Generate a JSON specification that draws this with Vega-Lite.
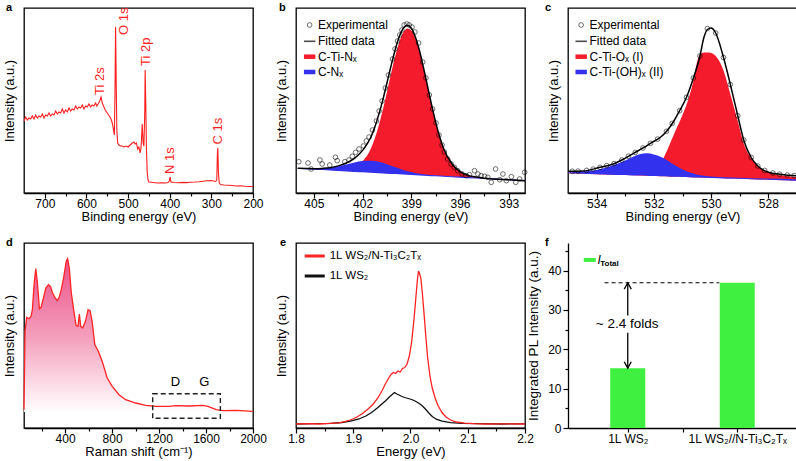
{
"$schema": "https://vega.github.io/schema/vega-lite/v6.json",
"autosize": {"type": "pad"},
"padding": {"left": 2, "top": 0, "right": 2, "bottom": 1},
"config": {
 "font": "Liberation Sans",
 "view": {"stroke": "black", "strokeWidth": 1.3},
 "axis": {"grid": false, "labelFontSize": 12, "titleFontSize": 13, "titleFontWeight": "normal", "labelColor": "black", "titleColor": "black", "domainColor": "black", "tickColor": "black", "tickWidth": 1.2, "domainWidth": 1.3, "labelFont": "Liberation Sans", "titleFont": "Liberation Sans"},
 "title": {"fontSize": 11, "fontWeight": "bold", "anchor": "start", "frame": "group", "offset": -5, "baseline": "alphabetic", "color": "black", "font": "Liberation Sans"}
},
"columns": 3,
"spacing": {"row": 50, "column": 43},
"bounds": "flush",
"concat": [
 {
  "width": 229, "height": 185,
  "title": {"text": "a", "dx": -18},
  "encoding": {
   "x": {"field": "x", "type": "quantitative", "title": "Binding energy (eV)", "scale": {"domain": [200, 750], "reverse": true, "nice": false, "zero": false},
    "axis": {"values": [700,650,600,550,500,450,400,350,300,250,200], "labelExpr": "datum.value % 100 === 0 ? datum.label : ''", "tickSize": {"condition": {"test": "datum.value % 100 === 0", "value": 5}, "value": 3}, "labelFlush": false, "labelOverlap": false, "labelPadding": 0.5, "titlePadding": 0.5}},
   "y": {"field": "y", "type": "quantitative", "title": "Intensity (a.u.)", "scale": {"domain": [0, 185], "nice": false}, "axis": {"labels": false, "ticks": false, "domain": false, "titlePadding": 7.5}}
  },
  "layer": [
   {"data": {"name": "xps"}, "mark": {"type": "line", "color": "#ff1f1f", "strokeWidth": 1.1}},
   {"data": {"name": "xpslab"}, "mark": {"type": "text", "angle": 270, "align": "left", "baseline": "middle", "color": "#ff1f1f", "fontSize": 13}, "encoding": {"text": {"field": "t"}}}
  ]
 },
 {
  "width": 229, "height": 185,
  "title": {"text": "b", "dx": -17},
  "encoding": {
   "x": {"field": "x", "type": "quantitative", "title": "Binding energy (eV)", "scale": {"domain": [392, 406.1], "reverse": true, "nice": false, "zero": false},
    "axis": {"values": [405,403.5,402,400.5,399,397.5,396,394.5,393], "labelExpr": "datum.value % 1 === 0 ? datum.label : ''", "tickSize": {"condition": {"test": "datum.value % 1 === 0", "value": 5}, "value": 3}, "labelFlush": false, "labelOverlap": false, "labelPadding": 0.5, "titlePadding": 0.5}},
   "y": {"field": "y", "type": "quantitative", "title": "Intensity (a.u.)", "scale": {"domain": [0, 185], "nice": false}, "axis": {"labels": false, "ticks": false, "domain": false, "titlePadding": 7.5}}
  },
  "layer": [
   {"data": {"name": "nred"}, "mark": {"type": "area", "color": "#f31b2c", "interpolate": "monotone"}, "encoding": {"y2": {"field": "y2"}}},
   {"data": {"name": "nblue"}, "mark": {"type": "area", "color": "#3232ee", "interpolate": "monotone"}, "encoding": {"y2": {"field": "y2"}}},
   {"data": {"name": "nfit"}, "mark": {"type": "line", "color": "black", "strokeWidth": 1.5, "interpolate": "monotone"}},
   {"data": {"name": "nexp"}, "mark": {"type": "point", "shape": "circle", "filled": false, "color": "black", "strokeWidth": 0.8, "size": 22}},
   {"data": {"name": "nlegsym"}, "transform": [{"filter": "datum.k == 'exp'"}], "mark": {"type": "point", "shape": "circle", "filled": false, "color": "black", "strokeWidth": 0.8, "size": 22}},
   {"data": {"name": "nlegsym"}, "transform": [{"filter": "datum.k == 'fit'"}], "mark": {"type": "point", "shape": "stroke", "size": 130, "stroke": "black", "strokeWidth": 1.6}},
   {"data": {"name": "nlegsym"}, "transform": [{"filter": "datum.k == 'red'"}], "mark": {"type": "point", "shape": "stroke", "size": 130, "stroke": "#f31b2c", "strokeWidth": 4.5, "opacity": 1}},
   {"data": {"name": "nlegsym"}, "transform": [{"filter": "datum.k == 'blue'"}], "mark": {"type": "point", "shape": "stroke", "size": 130, "stroke": "#3232ee", "strokeWidth": 4.5, "opacity": 1}},
   {"data": {"name": "nlegtxt"}, "mark": {"type": "text", "align": "left", "baseline": "middle", "fontSize": 12, "color": "black"}, "encoding": {"text": {"field": "t"}}}
  ]
 },
 {
  "width": 229, "height": 185,
  "title": {"text": "c", "dx": -23},
  "encoding": {
   "x": {"field": "x", "type": "quantitative", "title": "Binding energy (eV)", "scale": {"domain": [527, 535], "reverse": true, "nice": false, "zero": false},
    "axis": {"values": [534,533,532,531,530,529,528], "labelExpr": "datum.value % 2 === 0 ? datum.label : ''", "tickSize": {"condition": {"test": "datum.value % 2 === 0", "value": 5}, "value": 3}, "labelFlush": false, "labelOverlap": false, "labelPadding": 0.5, "titlePadding": 0.5}},
   "y": {"field": "y", "type": "quantitative", "title": "Intensity (a.u.)", "scale": {"domain": [0, 185], "nice": false}, "axis": {"labels": false, "ticks": false, "domain": false, "titlePadding": 7.5}}
  },
  "layer": [
   {"data": {"name": "cred"}, "mark": {"type": "area", "color": "#f31b2c", "interpolate": "monotone"}, "encoding": {"y2": {"field": "y2"}}},
   {"data": {"name": "cblue"}, "mark": {"type": "area", "color": "#3232ee", "interpolate": "monotone"}, "encoding": {"y2": {"field": "y2"}}},
   {"data": {"name": "cfit"}, "mark": {"type": "line", "color": "black", "strokeWidth": 1.5, "interpolate": "monotone"}},
   {"data": {"name": "cexp"}, "mark": {"type": "point", "shape": "circle", "filled": false, "color": "black", "strokeWidth": 0.8, "size": 22}},
   {"data": {"name": "clegsym"}, "transform": [{"filter": "datum.k == 'exp'"}], "mark": {"type": "point", "shape": "circle", "filled": false, "color": "black", "strokeWidth": 0.8, "size": 22}},
   {"data": {"name": "clegsym"}, "transform": [{"filter": "datum.k == 'fit'"}], "mark": {"type": "point", "shape": "stroke", "size": 130, "stroke": "black", "strokeWidth": 1.6}},
   {"data": {"name": "clegsym"}, "transform": [{"filter": "datum.k == 'red'"}], "mark": {"type": "point", "shape": "stroke", "size": 130, "stroke": "#f31b2c", "strokeWidth": 4.5, "opacity": 1}},
   {"data": {"name": "clegsym"}, "transform": [{"filter": "datum.k == 'blue'"}], "mark": {"type": "point", "shape": "stroke", "size": 130, "stroke": "#3232ee", "strokeWidth": 4.5, "opacity": 1}},
   {"data": {"name": "clegtxt"}, "mark": {"type": "text", "align": "left", "baseline": "middle", "fontSize": 12, "color": "black"}, "encoding": {"text": {"field": "t"}}}
  ]
 },
 {
  "width": 229, "height": 185,
  "title": {"text": "d", "dx": -18},
  "encoding": {
   "x": {"field": "x", "type": "quantitative", "title": "Raman shift (cm⁻¹)", "scale": {"domain": [50, 2000], "nice": false, "zero": false},
    "axis": {"values": [200,400,600,800,1000,1200,1400,1600,1800,2000], "format": "d", "labelExpr": "datum.value % 400 === 0 ? datum.label : ''", "tickSize": {"condition": {"test": "datum.value % 400 === 0", "value": 5}, "value": 3}, "labelFlush": false, "labelOverlap": false, "labelPadding": 0.5, "titlePadding": 0.5}},
   "y": {"field": "y", "type": "quantitative", "title": "Intensity (a.u.)", "scale": {"domain": [0, 185], "nice": false}, "axis": {"labels": false, "ticks": false, "domain": false, "titlePadding": 7.5}}
  },
  "layer": [
   {"data": {"name": "raman"}, "mark": {"type": "area", "color": {"gradient": "linear", "x1": 0, "x2": 0, "y1": 0, "y2": 1, "stops": [{"offset": 0, "color": "#ec5088"}, {"offset": 0.5, "color": "#f49dbb"}, {"offset": 1, "color": "#ffffff"}]}}, "encoding": {"y2": {"datum": 16}}},
   {"data": {"name": "raman"}, "mark": {"type": "line", "color": "#ff2424", "strokeWidth": 1.3}},
   {"data": {"name": "dbox"}, "mark": {"type": "rect", "fillOpacity": 0, "stroke": "#222222", "strokeWidth": 1.4, "strokeDash": [5, 3]}, "encoding": {"x2": {"field": "x2"}, "y2": {"field": "y2"}}},
   {"data": {"name": "dlab"}, "mark": {"type": "text", "align": "center", "baseline": "middle", "fontSize": 13, "color": "black"}, "encoding": {"text": {"field": "t"}}}
  ]
 },
 {
  "width": 229, "height": 185,
  "title": {"text": "e", "dx": -16},
  "encoding": {
   "x": {"field": "x", "type": "quantitative", "title": "Energy (eV)", "scale": {"domain": [1.8, 2.2], "nice": false, "zero": false},
    "axis": {"values": [1.8,1.85,1.9,1.95,2.0,2.05,2.1,2.15,2.2], "labelExpr": "abs(datum.value*10 - round(datum.value*10)) < 0.01 ? format(datum.value, '.1f') : ''", "tickSize": {"condition": {"test": "abs(datum.value*10 - round(datum.value*10)) < 0.01", "value": 5}, "value": 3}, "labelFlush": false, "labelOverlap": false, "labelPadding": 0.5, "titlePadding": 0.5}},
   "y": {"field": "y", "type": "quantitative", "title": "Intensity (a.u.)", "scale": {"domain": [0, 185], "nice": false}, "axis": {"labels": false, "ticks": false, "domain": false, "titlePadding": 7.5}}
  },
  "layer": [
   {"data": {"name": "eblack"}, "mark": {"type": "line", "color": "#111111", "strokeWidth": 1.3}},
   {"data": {"name": "ered"}, "mark": {"type": "line", "color": "#ff2222", "strokeWidth": 1.3}},
   {"data": {"name": "elegsym"}, "transform": [{"filter": "datum.k == 'red'"}], "mark": {"type": "point", "shape": "stroke", "size": 400, "stroke": "#ff2222", "strokeWidth": 3, "opacity": 1}},
   {"data": {"name": "elegsym"}, "transform": [{"filter": "datum.k == 'black'"}], "mark": {"type": "point", "shape": "stroke", "size": 400, "stroke": "#111111", "strokeWidth": 3, "opacity": 1}},
   {"data": {"name": "elegtxt"}, "mark": {"type": "text", "align": "left", "baseline": "middle", "fontSize": 11.5, "color": "black"}, "encoding": {"text": {"field": "t"}}}
  ]
 },
 {
  "width": 229, "height": 185,
  "title": {"text": "f", "dx": -23},
  "view": {"stroke": null},
  "encoding": {
   "x": {"field": "x", "type": "quantitative", "title": null, "scale": {"domain": [0, 2], "nice": false, "zero": false},
    "axis": {"values": [0.5, 1, 1.5], "labelExpr": "datum.value == 0.5 ? '1L WS₂' : (datum.value == 1.5 ? '1L WS₂//N-Ti₃C₂Tₓ' : '')", "tickSize": 4, "labelFlush": false, "labelOverlap": false, "labelPadding": 1.5}},
   "y": {"field": "y", "type": "quantitative", "title": "Integrated PL Intensity (a.u.)", "scale": {"domain": [0, 47], "nice": false, "zero": true},
    "axis": {"values": [0,5,10,15,20,25,30,35,40,45], "labelExpr": "datum.value % 10 === 0 ? datum.label : ''", "tickSize": {"condition": {"test": "datum.value % 10 === 0", "value": 5}, "value": 3}, "labelOverlap": false, "labelFlush": false, "labelPadding": 2, "titleFontSize": 13.5, "titlePadding": 7}}
  },
  "layer": [
   {"data": {"name": "fbar"}, "mark": {"type": "bar", "size": 35, "color": "#40f040"}},
   {"data": {"name": "fdash"}, "mark": {"type": "rule", "color": "black", "strokeWidth": 1.2, "strokeDash": [4, 3]}, "encoding": {"x2": {"field": "x2"}}},
   {"data": {"name": "farrow"}, "mark": {"type": "rule", "color": "black", "strokeWidth": 1.3}, "encoding": {"y2": {"field": "y2"}}},
   {"data": {"name": "fheadup"}, "mark": {"type": "point", "shape": "M-1,1.8L0,0L1,1.8", "size": 50, "filled": false, "stroke": "black", "strokeWidth": 1.3, "opacity": 1}},
   {"data": {"name": "fheaddown"}, "mark": {"type": "point", "shape": "M-1,-1.8L0,0L1,-1.8", "size": 50, "filled": false, "stroke": "black", "strokeWidth": 1.3, "opacity": 1}},
   {"data": {"name": "ftxt"}, "mark": {"type": "text", "align": "center", "baseline": "middle", "fontSize": 13.5, "color": "black"}, "encoding": {"text": {"field": "t"}}},
   {"data": {"name": "flegsym"}, "mark": {"type": "point", "shape": "stroke", "size": 144, "stroke": "#40f040", "strokeWidth": 4, "opacity": 1}},
   {"data": {"name": "flegI"}, "mark": {"type": "text", "align": "left", "baseline": "middle", "fontSize": 12, "fontStyle": "italic", "color": "black"}, "encoding": {"text": {"field": "t"}}},
   {"data": {"name": "flegT"}, "mark": {"type": "text", "align": "left", "baseline": "middle", "fontSize": 8, "fontWeight": "bold", "color": "black"}, "encoding": {"text": {"field": "t"}}}
  ]
 }
],
"datasets": {
 "xps": [
  {"x":750,"y":72},{"x":746,"y":76},{"x":742,"y":73},{"x":738,"y":75},{"x":734,"y":74},{"x":730,"y":77},{"x":726,"y":74},{"x":722,"y":78},{"x":718,"y":75},{"x":714,"y":77},{"x":710,"y":76},{"x":706,"y":79},{"x":702,"y":75},{"x":698,"y":78},{"x":694,"y":77},{"x":690,"y":80},{"x":686,"y":77},{"x":682,"y":79},{"x":678,"y":78},{"x":674,"y":82},{"x":670,"y":79},{"x":666,"y":81},{"x":662,"y":80},{"x":658,"y":84},{"x":654,"y":80},{"x":650,"y":83},{"x":646,"y":81},{"x":642,"y":85},{"x":638,"y":82},{"x":634,"y":84},{"x":630,"y":83},{"x":626,"y":87},{"x":622,"y":84},{"x":618,"y":86},{"x":614,"y":85},{"x":610,"y":88},{"x":606,"y":84},{"x":602,"y":87},{"x":598,"y":86},{"x":594,"y":89},{"x":590,"y":86},{"x":586,"y":88},{"x":582,"y":87},{"x":578,"y":90},{"x":575,"y":87},{"x":572,"y":89},{"x":568,"y":92},{"x":565,"y":96},{"x":562,"y":90},{"x":558,"y":86},{"x":555,"y":83},{"x":550,"y":80},{"x":545,"y":77},{"x":541,"y":74},{"x":538,"y":70},{"x":535,"y":63},{"x":533,"y":58},{"x":531.5,"y":100},{"x":530,"y":166},{"x":528.5,"y":110},{"x":527,"y":62},{"x":525,"y":50},{"x":522,"y":48},{"x":518,"y":47},{"x":514,"y":47},{"x":510,"y":46},{"x":505,"y":47},{"x":500,"y":46},{"x":495,"y":48},{"x":490,"y":50},{"x":486,"y":51},{"x":483,"y":49},{"x":480,"y":50},{"x":477,"y":44},{"x":474,"y":46},{"x":471,"y":40},{"x":469,"y":45},{"x":466,"y":69},{"x":464,"y":50},{"x":462,"y":47},{"x":460,"y":80},{"x":459,"y":123},{"x":457.5,"y":90},{"x":456,"y":45},{"x":454,"y":20},{"x":452,"y":13},{"x":450,"y":11},{"x":440,"y":10.5},{"x":430,"y":10},{"x":420,"y":10.3},{"x":410,"y":10},{"x":404,"y":10.5},{"x":401,"y":12},{"x":399,"y":16},{"x":397,"y":11},{"x":390,"y":10.5},{"x":380,"y":10.2},{"x":370,"y":10.6},{"x":360,"y":10.4},{"x":350,"y":10.8},{"x":340,"y":11},{"x":330,"y":11.3},{"x":320,"y":11.8},{"x":310,"y":12.3},{"x":300,"y":12.5},{"x":295,"y":12},{"x":290,"y":11.5},{"x":287,"y":13},{"x":285.5,"y":40},{"x":284.5,"y":45},{"x":283,"y":20},{"x":281,"y":10},{"x":278,"y":8.5},{"x":270,"y":8},{"x":260,"y":7.8},{"x":250,"y":7.5},{"x":240,"y":7},{"x":230,"y":7.2},{"x":220,"y":6.8},{"x":210,"y":6.5},{"x":200,"y":6.5}
 ],
 "xpslab": [
  {"x":567.5,"y":98,"t":"Ti 2s"},{"x":509,"y":158,"t":"O 1s"},{"x":457.8,"y":127,"t":"Ti 2p"},{"x":400,"y":19,"t":"N 1s"},{"x":284.4,"y":48.5,"t":"C 1s"}
 ],
 "nred": [
  {"x":406,"y":24.7,"y2":24.7},{"x":405.5,"y":24.3,"y2":24.3},{"x":405,"y":23.8,"y2":23.8},{"x":404.5,"y":23.4,"y2":23.4},{"x":404,"y":22.9,"y2":22.9},{"x":403.5,"y":22.9,"y2":22.5},{"x":403,"y":23.5,"y2":22.0},{"x":402.5,"y":25.6,"y2":21.6},{"x":402,"y":31.7,"y2":21.2},{"x":401.5,"y":43.9,"y2":20.7},{"x":401.25,"y":54.4,"y2":20.5},{"x":401,"y":67.7,"y2":20.3},{"x":400.75,"y":83.4,"y2":20.0},{"x":400.5,"y":101.0,"y2":19.8},{"x":400.25,"y":119.2,"y2":19.6},{"x":400,"y":136.3,"y2":19.4},{"x":399.75,"y":150.6,"y2":19.2},{"x":399.5,"y":160.4,"y2":18.9},{"x":399.25,"y":164.6,"y2":18.7},{"x":399,"y":162.5,"y2":18.5},{"x":398.75,"y":154.4,"y2":18.3},{"x":398.5,"y":141.3,"y2":18.1},{"x":398.25,"y":124.6,"y2":17.9},{"x":398,"y":106.2,"y2":17.6},{"x":397.75,"y":87.8,"y2":17.4},{"x":397.5,"y":70.7,"y2":17.2},{"x":397.25,"y":55.9,"y2":16.9},{"x":397,"y":43.9,"y2":16.7},{"x":396.5,"y":29.3,"y2":16.3},{"x":396,"y":21.3,"y2":15.8},{"x":395.5,"y":17.6,"y2":15.4},{"x":395,"y":15.9,"y2":15.0},{"x":394.5,"y":14.8,"y2":14.5},{"x":394,"y":14.1,"y2":14.1},{"x":393,"y":13.2,"y2":13.2},{"x":392,"y":12.3,"y2":12.3}
 ],
 "nblue": [
  {"x":406,"y":24.8,"y2":24.2},{"x":405.5,"y":24.5,"y2":23.8},{"x":405,"y":24.3,"y2":23.3},{"x":404.5,"y":24.6,"y2":22.9},{"x":404,"y":25.3,"y2":22.4},{"x":403.5,"y":26.7,"y2":22.0},{"x":403,"y":28.5,"y2":21.5},{"x":402.5,"y":30.6,"y2":21.1},{"x":402,"y":32.1,"y2":20.7},{"x":401.5,"y":32.3,"y2":20.2},{"x":401,"y":31.2,"y2":19.8},{"x":400.5,"y":28.8,"y2":19.3},{"x":400,"y":25.9,"y2":18.9},{"x":399.5,"y":23.1,"y2":18.4},{"x":399,"y":20.9,"y2":18.0},{"x":398.5,"y":19.3,"y2":17.6},{"x":398,"y":18.3,"y2":17.1},{"x":397.5,"y":17.8,"y2":16.7},{"x":397,"y":17.3,"y2":16.2},{"x":396,"y":16.4,"y2":15.3},{"x":395,"y":15.6,"y2":14.5},{"x":394,"y":14.7,"y2":13.6},{"x":393,"y":13.8,"y2":12.7},{"x":392,"y":12.9,"y2":11.8}
 ],
 "nfit": [
  {"x":406,"y":24.8},{"x":405.5,"y":24.5},{"x":405,"y":24.3},{"x":404.5,"y":24.6},{"x":404,"y":25.3},{"x":403.5,"y":27.1},{"x":403,"y":30.0},{"x":402.5,"y":34.6},{"x":402,"y":42.6},{"x":401.5,"y":55.5},{"x":401.25,"y":65.8},{"x":401,"y":78.6},{"x":400.75,"y":93.4},{"x":400.5,"y":110.0},{"x":400.25,"y":127.0},{"x":400,"y":142.8},{"x":399.75,"y":155.9},{"x":399.5,"y":164.6},{"x":399.25,"y":167.8},{"x":399,"y":164.9},{"x":398.75,"y":156.1},{"x":398.5,"y":142.5},{"x":398.25,"y":125.4},{"x":398,"y":106.7},{"x":397.75,"y":88.1},{"x":397.5,"y":70.9},{"x":397.25,"y":56.0},{"x":397,"y":44.0},{"x":396.5,"y":29.3},{"x":396,"y":21.3},{"x":395.5,"y":17.6},{"x":395,"y":15.9},{"x":394.5,"y":14.8},{"x":394,"y":14.1},{"x":393,"y":13.2},{"x":392,"y":12.3}
 ],
 "nexp": [
  {"x":405.93,"y":31.3},{"x":405.36,"y":30},{"x":405.17,"y":24},{"x":404.63,"y":33},{"x":404.49,"y":29},{"x":404.02,"y":28},{"x":403.67,"y":35.7},{"x":403.56,"y":32.3},{"x":403.09,"y":31.3},{"x":402.84,"y":33},{"x":402.63,"y":36.7},{"x":402.43,"y":40.7},{"x":402.22,"y":44},{"x":401.95,"y":47},{"x":401.77,"y":52},{"x":401.6,"y":56},{"x":401.39,"y":63},{"x":401.15,"y":72},{"x":400.98,"y":82},{"x":400.8,"y":92},{"x":400.6,"y":105},{"x":400.41,"y":118},{"x":400.16,"y":134},{"x":400.0,"y":144},{"x":399.85,"y":152},{"x":399.71,"y":158},{"x":399.58,"y":163},{"x":399.44,"y":168},{"x":399.27,"y":169},{"x":399.13,"y":168},{"x":398.96,"y":166},{"x":398.78,"y":161},{"x":398.55,"y":150},{"x":398.3,"y":131},{"x":398.1,"y":115},{"x":397.89,"y":98},{"x":397.69,"y":84},{"x":397.48,"y":70},{"x":397.3,"y":58},{"x":397.11,"y":48},{"x":396.97,"y":41},{"x":396.76,"y":34},{"x":396.55,"y":29},{"x":396.35,"y":25.7},{"x":396.14,"y":22.3},{"x":395.87,"y":19},{"x":395.62,"y":17.3},{"x":395.42,"y":18.3},{"x":395.11,"y":22.3},{"x":394.9,"y":19},{"x":394.7,"y":17.3},{"x":394.49,"y":16.7},{"x":394.29,"y":15.7},{"x":394.08,"y":10.7},{"x":393.81,"y":24},{"x":393.56,"y":13.3},{"x":393.36,"y":19},{"x":393.15,"y":12.3},{"x":392.84,"y":16.3},{"x":392.57,"y":10.7},{"x":392.33,"y":14},{"x":392.02,"y":20.7}
 ],
 "nlegsym": [
  {"x":405.26,"y":168,"k":"exp"},{"x":405.26,"y":151.7,"k":"fit"},{"x":405.26,"y":136.3,"k":"red"},{"x":405.26,"y":121,"k":"blue"}
 ],
 "nlegtxt": [
  {"x":404.75,"y":168,"t":"Experimental"},{"x":404.75,"y":151.7,"t":"Fitted data"},{"x":404.75,"y":136.3,"t":"C-Ti-Nₓ"},{"x":404.75,"y":121,"t":"C-Nₓ"}
 ],
 "cred": [
  {"x":535,"y":20.5,"y2":19.7},{"x":534.5,"y":20.0,"y2":19.2},{"x":534,"y":19.5,"y2":18.8},{"x":533.5,"y":19.2,"y2":18.3},{"x":533,"y":19.0,"y2":17.9},{"x":532.5,"y":19.5,"y2":17.4},{"x":532,"y":22.0,"y2":16.9},{"x":531.85,"y":25.0,"y2":16.8},{"x":531.75,"y":30.0,"y2":16.7},{"x":531.5,"y":45.0,"y2":16.5},{"x":531.25,"y":62.0,"y2":16.2},{"x":531,"y":78.0,"y2":16.0},{"x":530.75,"y":98.0,"y2":15.8},{"x":530.6,"y":115.0,"y2":15.6},{"x":530.5,"y":130.0,"y2":15.5},{"x":530.4,"y":138.0,"y2":15.4},{"x":530.25,"y":140.5,"y2":15.3},{"x":530.1,"y":140.5,"y2":15.1},{"x":529.95,"y":139.5,"y2":15.0},{"x":529.84,"y":137.0,"y2":14.9},{"x":529.6,"y":125.0,"y2":14.7},{"x":529.31,"y":97.0,"y2":14.4},{"x":529.07,"y":72.0,"y2":14.2},{"x":528.84,"y":48.0,"y2":14.0},{"x":528.6,"y":35.0,"y2":13.8},{"x":528.25,"y":24.0,"y2":13.5},{"x":527.78,"y":19.0,"y2":13.0},{"x":527,"y":16.0,"y2":12.3}
 ],
 "cblue": [
  {"x":535,"y":20.5,"y2":19.7},{"x":534.5,"y":21.5,"y2":19.2},{"x":534,"y":23.0,"y2":18.8},{"x":533.5,"y":27.0,"y2":18.3},{"x":533,"y":32.5,"y2":17.9},{"x":532.75,"y":36.0,"y2":17.6},{"x":532.5,"y":38.8,"y2":17.4},{"x":532.25,"y":39.7,"y2":17.2},{"x":532,"y":38.5,"y2":16.9},{"x":531.75,"y":36.0,"y2":16.7},{"x":531.5,"y":32.0,"y2":16.5},{"x":531.25,"y":27.5,"y2":16.2},{"x":531,"y":23.5,"y2":16.0},{"x":530.75,"y":20.5,"y2":15.8},{"x":530.5,"y":18.5,"y2":15.5},{"x":530,"y":16.5,"y2":15.1},{"x":529,"y":15.3,"y2":14.2},{"x":528,"y":14.4,"y2":13.2},{"x":527,"y":13.8,"y2":12.3}
 ],
 "cfit": [
  {"x":535,"y":21.7},{"x":534.47,"y":22},{"x":533.88,"y":25.7},{"x":533.42,"y":29},{"x":533.12,"y":33},{"x":532.71,"y":39.7},{"x":532.36,"y":45.3},{"x":532.12,"y":49.7},{"x":531.77,"y":55.7},{"x":531.54,"y":62.3},{"x":531.3,"y":72},{"x":531.1,"y":82.3},{"x":530.86,"y":95.7},{"x":530.63,"y":114},{"x":530.4,"y":135.7},{"x":530.25,"y":155.7},{"x":530.13,"y":163.5},{"x":530.0,"y":165},{"x":529.84,"y":160},{"x":529.6,"y":139},{"x":529.31,"y":106.3},{"x":529.07,"y":77.3},{"x":528.84,"y":51},{"x":528.6,"y":35.5},{"x":528.37,"y":27},{"x":528.02,"y":21},{"x":527.55,"y":18.5},{"x":526.96,"y":17}
 ],
 "cexp": [
  {"x":534.85,"y":21.8},{"x":534.65,"y":21.9},{"x":534.35,"y":22.6},{"x":534.12,"y":23.9},{"x":533.88,"y":25.7},{"x":533.65,"y":27.4},{"x":533.39,"y":29.4},{"x":533.12,"y":33},{"x":532.89,"y":36.8},{"x":532.65,"y":40.6},{"x":532.38,"y":45},{"x":532.12,"y":49.7},{"x":531.87,"y":53.9},{"x":531.56,"y":61.7},{"x":531.36,"y":69.6},{"x":531.10,"y":82.3},{"x":530.86,"y":95.7},{"x":530.62,"y":115},{"x":530.39,"y":137},{"x":530.13,"y":164.5},{"x":529.84,"y":160},{"x":529.57,"y":135.5},{"x":529.33,"y":108.5},{"x":529.07,"y":77.3},{"x":528.86,"y":53},{"x":528.6,"y":35.5},{"x":528.37,"y":27},{"x":528.13,"y":22.5},{"x":527.84,"y":20},{"x":527.61,"y":18.8},{"x":527.34,"y":18},{"x":527.1,"y":17.4}
 ],
 "clegsym": [
  {"x":534.54,"y":168,"k":"exp"},{"x":534.54,"y":151.7,"k":"fit"},{"x":534.54,"y":136.3,"k":"red"},{"x":534.54,"y":121,"k":"blue"}
 ],
 "clegtxt": [
  {"x":534.25,"y":168,"t":"Experimental"},{"x":534.25,"y":151.7,"t":"Fitted data"},{"x":534.25,"y":136.3,"t":"C-Ti-Oₓ (I)"},{"x":534.25,"y":121,"t":"C-Ti-(OH)ₓ (II)"}
 ],
 "raman": [
  {"x":50,"y":18.3},{"x":58.6,"y":96.7},{"x":72.9,"y":110.7},{"x":92.9,"y":109.3},{"x":110,"y":111.7},{"x":121.4,"y":118.3},{"x":135.7,"y":143.3},{"x":150,"y":159.3},{"x":164.3,"y":145},{"x":181.4,"y":119.3},{"x":195.7,"y":120.7},{"x":215.7,"y":130},{"x":235.7,"y":140},{"x":258.6,"y":143.3},{"x":275.7,"y":141.7},{"x":292.9,"y":135},{"x":315.7,"y":130},{"x":332.9,"y":127.3},{"x":350,"y":130.7},{"x":367.1,"y":138.3},{"x":387.1,"y":150},{"x":410,"y":166.7},{"x":421.4,"y":169.3},{"x":435.7,"y":160},{"x":452.9,"y":135},{"x":472.9,"y":118.3},{"x":492.9,"y":102.7},{"x":510,"y":101.7},{"x":521.4,"y":114},{"x":532.9,"y":101.7},{"x":550,"y":100},{"x":572.9,"y":106.7},{"x":595.7,"y":118.3},{"x":612.9,"y":117.3},{"x":630,"y":106.7},{"x":652.9,"y":83.3},{"x":681.4,"y":77.3},{"x":715.7,"y":66.7},{"x":758.6,"y":50},{"x":801.4,"y":41.7},{"x":858.6,"y":33.3},{"x":915.7,"y":28.3},{"x":1001,"y":25},{"x":1087,"y":22.7},{"x":1173,"y":21.7},{"x":1287,"y":21.7},{"x":1344,"y":22.3},{"x":1459,"y":22},{"x":1573,"y":22.7},{"x":1616,"y":21.7},{"x":1687,"y":18.3},{"x":1744,"y":17.3},{"x":1859,"y":17.7},{"x":2000,"y":16.7}
 ],
 "dbox": [{"x":1146,"x2":1722,"y":9.7,"y2":34.3}],
 "dlab": [{"x":1339,"y":46.3,"t":"D"},{"x":1586,"y":46.3,"t":"G"}],
 "ered": [
  {"x":1.800,"y":4.0},{"x":1.820,"y":4.3},{"x":1.840,"y":4.0},{"x":1.860,"y":4.6},{"x":1.875,"y":5.2},{"x":1.885,"y":6.3},{"x":1.895,"y":8.0},{"x":1.905,"y":10.5},{"x":1.915,"y":14.0},{"x":1.925,"y":18.5},{"x":1.935,"y":24.0},{"x":1.943,"y":30.0},{"x":1.950,"y":37.0},{"x":1.956,"y":44.0},{"x":1.962,"y":50.0},{"x":1.966,"y":53.5},{"x":1.970,"y":55.5},{"x":1.974,"y":54.5},{"x":1.978,"y":57.0},{"x":1.982,"y":56.0},{"x":1.986,"y":59.5},{"x":1.990,"y":60.5},{"x":1.994,"y":64.0},{"x":1.998,"y":72.0},{"x":2.002,"y":86.0},{"x":2.006,"y":108.0},{"x":2.009,"y":128.0},{"x":2.012,"y":148.0},{"x":2.014,"y":157.0},{"x":2.016,"y":154.0},{"x":2.018,"y":150.0},{"x":2.021,"y":133.0},{"x":2.024,"y":112.0},{"x":2.027,"y":90.0},{"x":2.030,"y":70.0},{"x":2.034,"y":52.0},{"x":2.038,"y":40.0},{"x":2.043,"y":30.0},{"x":2.048,"y":22.5},{"x":2.055,"y":15.5},{"x":2.062,"y":11.0},{"x":2.070,"y":8.0},{"x":2.080,"y":6.0},{"x":2.095,"y":4.8},{"x":2.110,"y":4.3},{"x":2.130,"y":4.0},{"x":2.160,"y":4.1},{"x":2.200,"y":4.0}
 ],
 "eblack": [
  {"x":1.800,"y":4.0},{"x":1.830,"y":4.3},{"x":1.860,"y":4.6},{"x":1.880,"y":5.5},{"x":1.895,"y":6.8},{"x":1.910,"y":9.0},{"x":1.922,"y":12.0},{"x":1.932,"y":15.5},{"x":1.942,"y":20.0},{"x":1.950,"y":24.0},{"x":1.957,"y":27.5},{"x":1.963,"y":31.0},{"x":1.968,"y":33.5},{"x":1.972,"y":35.5},{"x":1.976,"y":34.0},{"x":1.980,"y":33.0},{"x":1.985,"y":31.5},{"x":1.990,"y":30.5},{"x":1.996,"y":29.5},{"x":2.002,"y":28.5},{"x":2.008,"y":27.0},{"x":2.014,"y":25.0},{"x":2.020,"y":22.5},{"x":2.026,"y":19.0},{"x":2.032,"y":15.0},{"x":2.038,"y":11.5},{"x":2.045,"y":8.8},{"x":2.055,"y":6.8},{"x":2.070,"y":5.3},{"x":2.090,"y":4.6},{"x":2.120,"y":4.3},{"x":2.160,"y":4.0},{"x":2.200,"y":4.2}
 ],
 "elegsym": [{"x":1.8327,"y":172,"k":"red"},{"x":1.8327,"y":152,"k":"black"}],
 "elegtxt": [{"x":1.8589,"y":172,"t":"1L WS₂/N-Ti₃C₂Tₓ"},{"x":1.8589,"y":152,"t":"1L WS₂"}],
 "fbar": [{"x":0.5,"y":15.2},{"x":1.5,"y":36.9}],
 "fdash": [{"x":0.288,"x2":1.336,"y":36.9}],
 "farrow": [{"x":0.5,"y":36.9,"y2":28.6},{"x":0.5,"y":24.2,"y2":15.2}],
 "fheadup": [{"x":0.5,"y":36.9}],
 "fheaddown": [{"x":0.5,"y":15.2}],
 "ftxt": [{"x":0.495,"y":26.3,"t":"~ 2.4 folds"}],
 "flegsym": [{"x":0.153,"y":42.7}],
 "flegI": [{"x":0.224,"y":42.7,"t":"I"}],
 "flegT": [{"x":0.249,"y":41.6,"t":"Total"}]
}
}
